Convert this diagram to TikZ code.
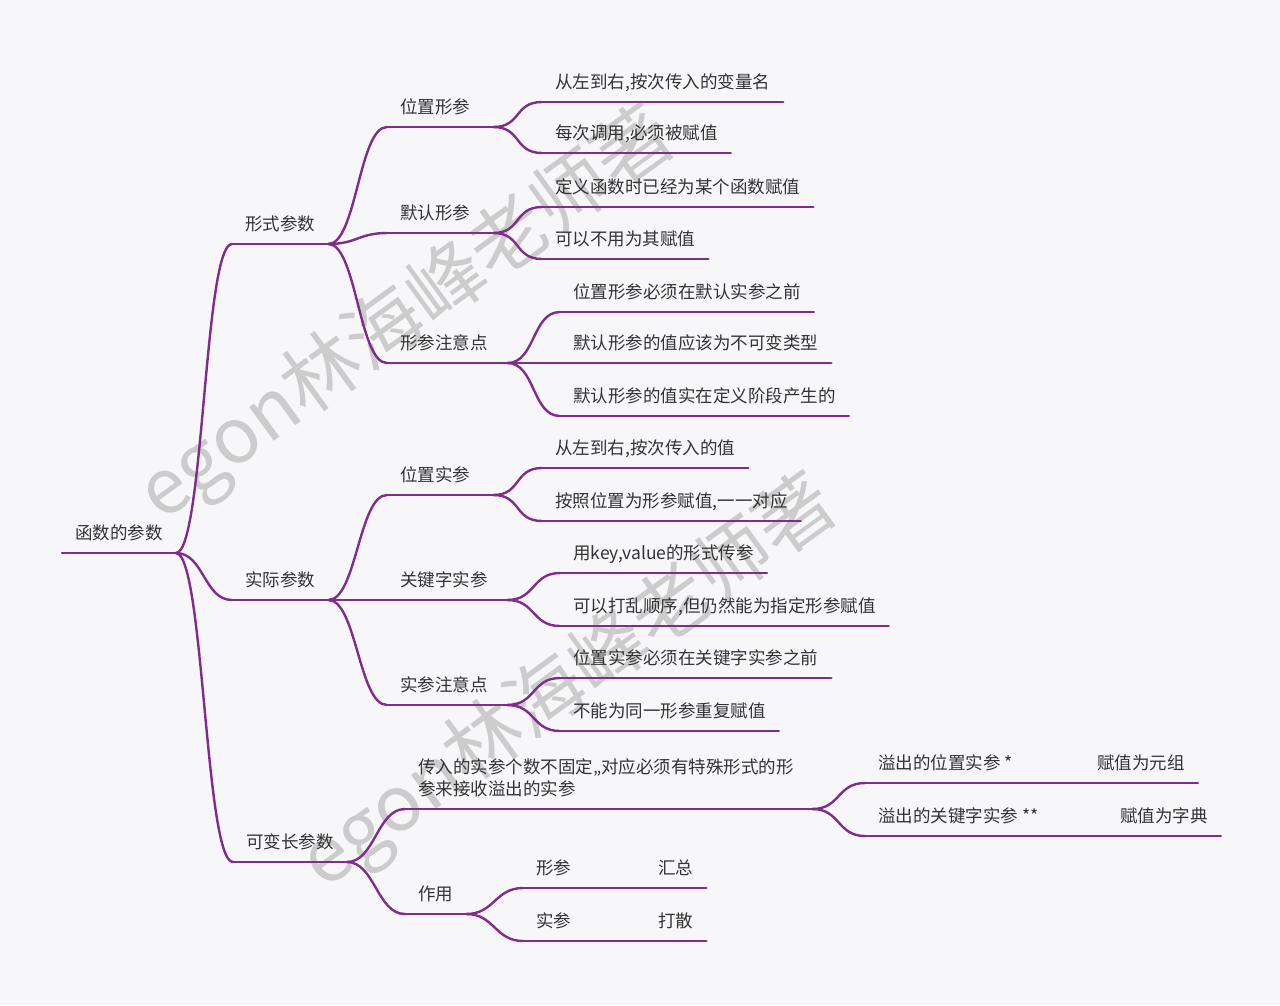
\documentclass[tikz,border=0pt]{standalone}
\usepackage{fontspec}
\setmainfont{Noto Sans CJK SC}
\definecolor{branch}{RGB}{128,44,140}
\definecolor{ink}{RGB}{51,51,51}
\definecolor{paper}{RGB}{247,247,250}
\definecolor{mark}{RGB}{204,204,204}

\begin{document}
\begin{tikzpicture}[
  x=1pt, y=-1pt,
  topic/.style={anchor=south west, inner xsep=13pt, inner ysep=9.5pt, text height=13pt, text depth=4pt, font=\fontsize{17.5}{22}\selectfont, text=ink},
  wide/.style={text width=#1, align=left},
  line/.style={draw=branch, line width=2.4pt, line cap=round},
  curve/.style={to path={.. controls +(28,0) and +(-28,0) .. (\tikztotarget)}},
  stamp/.style={rotate=36, text=mark, font=\fontsize{77}{77}\selectfont}
]
  \fill[paper] (0,0) rectangle (1280,1005);

  % watermark
  \node[stamp] (wm1) at (408,316) {egon林海峰老师著};
  \node[stamp] (wm2) at (570,684) {egon林海峰老师著};

  % main topics
  \node[topic] (root) at (62,553) {函数的参数};
  \node[topic] (formal) at (232,244) {形式参数};
  \node[topic] (actual) at (232,600) {实际参数};
  \node[topic] (varlen) at (233,862) {可变长参数};

  % second level
  \node[topic, wide=80pt] (posf) at (387,127) {位置形参};
  \node[topic, wide=80pt] (deff) at (387,233) {默认形参};
  \node[topic, wide=94pt] (notef) at (387,363) {形参注意点};
  \node[topic, wide=80pt] (posa) at (387,495) {位置实参};
  \node[topic, wide=94pt] (kwa) at (387,600) {关键字实参};
  \node[topic, wide=94pt] (notea) at (387,705) {实参注意点};
  \node[topic, wide=381pt, text depth=26pt] (vararg) at (405,809) {传入的实参个数不固定,,对应必须有特殊形式的形\\参来接收溢出的实参};
  \node[topic] (usage) at (405,914) {作用};

  % third level
  \node[topic] (posf1) at (542,102) {从左到右,按次传入的变量名};
  \node[topic] (posf2) at (542,153) {每次调用,必须被赋值};
  \node[topic] (deff1) at (542,207) {定义函数时已经为某个函数赋值};
  \node[topic] (deff2) at (542,259) {可以不用为其赋值};
  \node[topic] (notef1) at (560,312) {位置形参必须在默认实参之前};
  \node[topic] (notef2) at (560,363) {默认形参的值应该为不可变类型};
  \node[topic] (notef3) at (560,416) {默认形参的值实在定义阶段产生的};
  \node[topic] (posa1) at (542,468) {从左到右,按次传入的值};
  \node[topic] (posa2) at (542,521) {按照位置为形参赋值,一一对应};
  \node[topic] (kwa1) at (560,573) {用key,value的形式传参};
  \node[topic] (kwa2) at (560,626) {可以打乱顺序,但仍然能为指定形参赋值};
  \node[topic] (notea1) at (560,678) {位置实参必须在关键字实参之前};
  \node[topic] (notea2) at (560,731) {不能为同一形参重复赋值};
  \node[topic] (ovpos) at (865,783) {溢出的位置实参 *};
  \node[topic] (tuple) at (1084,783) {赋值为元组};
  \node[topic] (ovkw) at (865,836) {溢出的关键字实参 **};
  \node[topic] (dict) at (1107,836) {赋值为字典};
  \node[topic] (uform) at (523,888) {形参};
  \node[topic] (collect) at (645,888) {汇总};
  \node[topic] (uact) at (523,941) {实参};
  \node[topic] (scatter) at (645,941) {打散};

  % underlines
  \foreach \n in {root,formal,actual,varlen,posf,deff,notef,posa,kwa,notea,vararg,usage,
    posf1,posf2,deff1,deff2,notef1,notef2,notef3,posa1,posa2,kwa1,kwa2,notea1,notea2,
    ovpos,tuple,ovkw,dict,uform,collect,uact,scatter}
    \draw[line] (\n.south west) -- (\n.south east);

  % branches
  \draw[line] (root.south east) to[curve] (formal.south west);
  \draw[line] (root.south east) to[curve] (actual.south west);
  \draw[line] (root.south east) to[curve] (varlen.south west);
  \draw[line] (formal.south east) to[curve] (posf.south west);
  \draw[line] (formal.south east) to[curve] (deff.south west);
  \draw[line] (formal.south east) to[curve] (notef.south west);
  \draw[line] (actual.south east) to[curve] (posa.south west);
  \draw[line] (actual.south east) to[curve] (kwa.south west);
  \draw[line] (actual.south east) to[curve] (notea.south west);
  \draw[line] (varlen.south east) to[curve] (vararg.south west);
  \draw[line] (varlen.south east) to[curve] (usage.south west);
  \draw[line] (posf.south east) to[curve] (posf1.south west);
  \draw[line] (posf.south east) to[curve] (posf2.south west);
  \draw[line] (deff.south east) to[curve] (deff1.south west);
  \draw[line] (deff.south east) to[curve] (deff2.south west);
  \draw[line] (notef.south east) to[curve] (notef1.south west);
  \draw[line] (notef.south east) to[curve] (notef2.south west);
  \draw[line] (notef.south east) to[curve] (notef3.south west);
  \draw[line] (posa.south east) to[curve] (posa1.south west);
  \draw[line] (posa.south east) to[curve] (posa2.south west);
  \draw[line] (kwa.south east) to[curve] (kwa1.south west);
  \draw[line] (kwa.south east) to[curve] (kwa2.south west);
  \draw[line] (notea.south east) to[curve] (notea1.south west);
  \draw[line] (notea.south east) to[curve] (notea2.south west);
  \draw[line] (vararg.south east) to[curve] (ovpos.south west);
  \draw[line] (vararg.south east) to[curve] (ovkw.south west);
  \draw[line] (usage.south east) to[curve] (uform.south west);
  \draw[line] (usage.south east) to[curve] (uact.south west);
  \draw[line] (ovpos.south east) -- (tuple.south west);
  \draw[line] (ovkw.south east) -- (dict.south west);
  \draw[line] (uform.south east) -- (collect.south west);
  \draw[line] (uact.south east) -- (scatter.south west);
\end{tikzpicture}
\end{document}
